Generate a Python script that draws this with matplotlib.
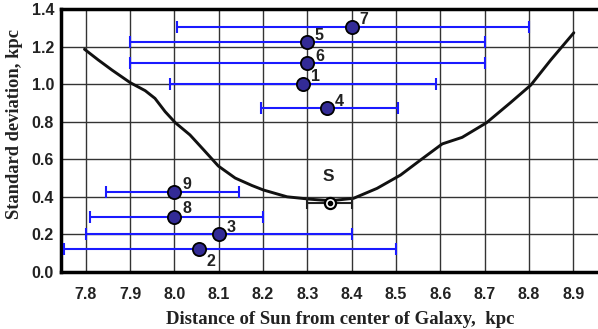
import matplotlib
matplotlib.use("Agg")
import matplotlib.pyplot as plt
import numpy as np

# Individual estimates: label, distance (kpc), lower / upper bounds, standard deviation (kpc)
labels = ["1", "2", "3", "4", "5", "6", "7", "8", "9"]
dist = [8.29, 8.055, 8.10, 8.345, 8.30, 8.30, 8.40, 8.00, 8.00]
dist_lo = [7.99, 7.75, 7.80, 8.195, 7.90, 7.90, 8.005, 7.81, 7.845]
dist_hi = [8.59, 8.50, 8.40, 8.505, 8.70, 8.70, 8.80, 8.20, 8.145]
sigma = [1.00, 0.12, 0.20, 0.875, 1.225, 1.112, 1.306, 0.294, 0.424]

# Label offsets in pixels (point 2 below-right, others above-right)
label_dx = [12, 12, 12, 12, 12, 12, 12, 12, 12]
label_dy = [8, -12, 7, 6, 7, 7, 7, 8, 8]

# Sun position estimate
sun_x, sun_lo, sun_hi, sun_y = 8.35, 8.30, 8.40, 0.365

# Standard deviation curve versus assumed solar distance
curve_x = [7.797, 7.828, 7.859, 7.90, 7.934, 7.956, 7.979, 8.002, 8.035, 8.066,
           8.099, 8.137, 8.175, 8.201, 8.254, 8.307, 8.352, 8.404, 8.457, 8.51,
           8.555, 8.604, 8.649, 8.704, 8.758, 8.804, 8.849, 8.901]
curve_y = [1.187, 1.13, 1.076, 1.009, 0.966, 0.925, 0.854, 0.795, 0.73, 0.65,
           0.564, 0.50, 0.46, 0.436, 0.40, 0.387, 0.379, 0.392, 0.445, 0.516,
           0.596, 0.682, 0.717, 0.795, 0.902, 0.996, 1.13, 1.275]

x_ticks = [7.8, 7.9, 8.0, 8.1, 8.2, 8.3, 8.4, 8.5, 8.6, 8.7, 8.8, 8.9]
y_ticks = [0.0, 0.2, 0.4, 0.6, 0.8, 1.0, 1.2, 1.4]

SANS = "Liberation Sans"

W, H = 598, 329
fig = plt.figure(figsize=(W / 100, H / 100), dpi=100)
ax = fig.add_axes([61 / W, (H - 271.8) / H, (600 - 61) / W, (271.8 - 9.3) / H])

ax.set_xlim(7.744, 8.96)
ax.set_ylim(0.0, 1.4)

# grid
for xv in x_ticks:
    ax.axvline(xv, color="#333333", lw=1.0, zorder=0)
for yv in y_ticks:
    ax.axhline(yv, color="#333333", lw=1.0, zorder=0)

# curve
ax.plot(curve_x, curve_y, color="#111111", lw=2.1, zorder=2,
        solid_capstyle="round", solid_joinstyle="round")

# error bars and points
x = np.array(dist)
xerr = np.vstack([x - np.array(dist_lo), np.array(dist_hi) - x])
ax.errorbar(x, sigma, xerr=xerr, fmt="none", ecolor="#1a1aff", elinewidth=1.5,
            capsize=4.5, capthick=1.5, zorder=3, clip_on=False)
ax.plot(x, sigma, "o", ms=9.5, mfc="#332b96", mec="black", mew=1.3, zorder=4)

for lab, xi, yi, dx, dy in zip(labels, dist, sigma, label_dx, label_dy):
    ax.annotate(lab, (xi, yi), xytext=(dx * 0.72, dy * 0.72), textcoords="offset points",
                ha="center", va="center", fontsize=11.5, fontweight="bold",
                family=SANS, color="#222222", zorder=5)

# Sun
ax.errorbar([sun_x], [sun_y], xerr=[[sun_x - sun_lo], [sun_hi - sun_x]], fmt="none",
            ecolor="#222222", elinewidth=1.5, capsize=4, capthick=1.5, zorder=3)
ax.plot([sun_x], [sun_y], "o", ms=8, mfc="white", mec="black", mew=1.6, zorder=4)
ax.plot([sun_x], [sun_y], "o", ms=3, mfc="black", mec="black", zorder=5)
ax.annotate("S", (sun_x, sun_y), xytext=(-1, 19), textcoords="offset points",
            ha="center", va="center", fontsize=12.5, fontweight="bold",
            family=SANS, color="#222222")

ax.set_xticks(x_ticks)
ax.set_xticklabels([f"{v:.1f}" for v in x_ticks])
ax.set_yticks(y_ticks)
ax.set_yticklabels([f"{v:.1f}" for v in y_ticks])
ax.tick_params(length=0, labelsize=11.5, labelcolor="#222222")
for lab in ax.get_xticklabels() + ax.get_yticklabels():
    lab.set_family(SANS)
    lab.set_fontweight("bold")
ax.tick_params(axis="x", pad=11)
ax.tick_params(axis="y", pad=5)

for side in ["left", "top", "bottom"]:
    ax.spines[side].set_linewidth(2.5)
    ax.spines[side].set_color("black")
ax.spines["right"].set_visible(False)

fig.text(340 / W, 1 - 320 / H, "Distance of Sun from center of Galaxy,  kpc",
         ha="center", va="center", fontsize=13.5, fontweight="bold",
         family="Liberation Serif", color="#222222")
fig.text(15 / W, 1 - 124 / H, "Standard deviation, kpc", rotation=90,
         ha="center", va="center", fontsize=13.3, fontweight="bold",
         family="Liberation Serif", color="#222222")

fig.savefig("out.png", dpi=100)
